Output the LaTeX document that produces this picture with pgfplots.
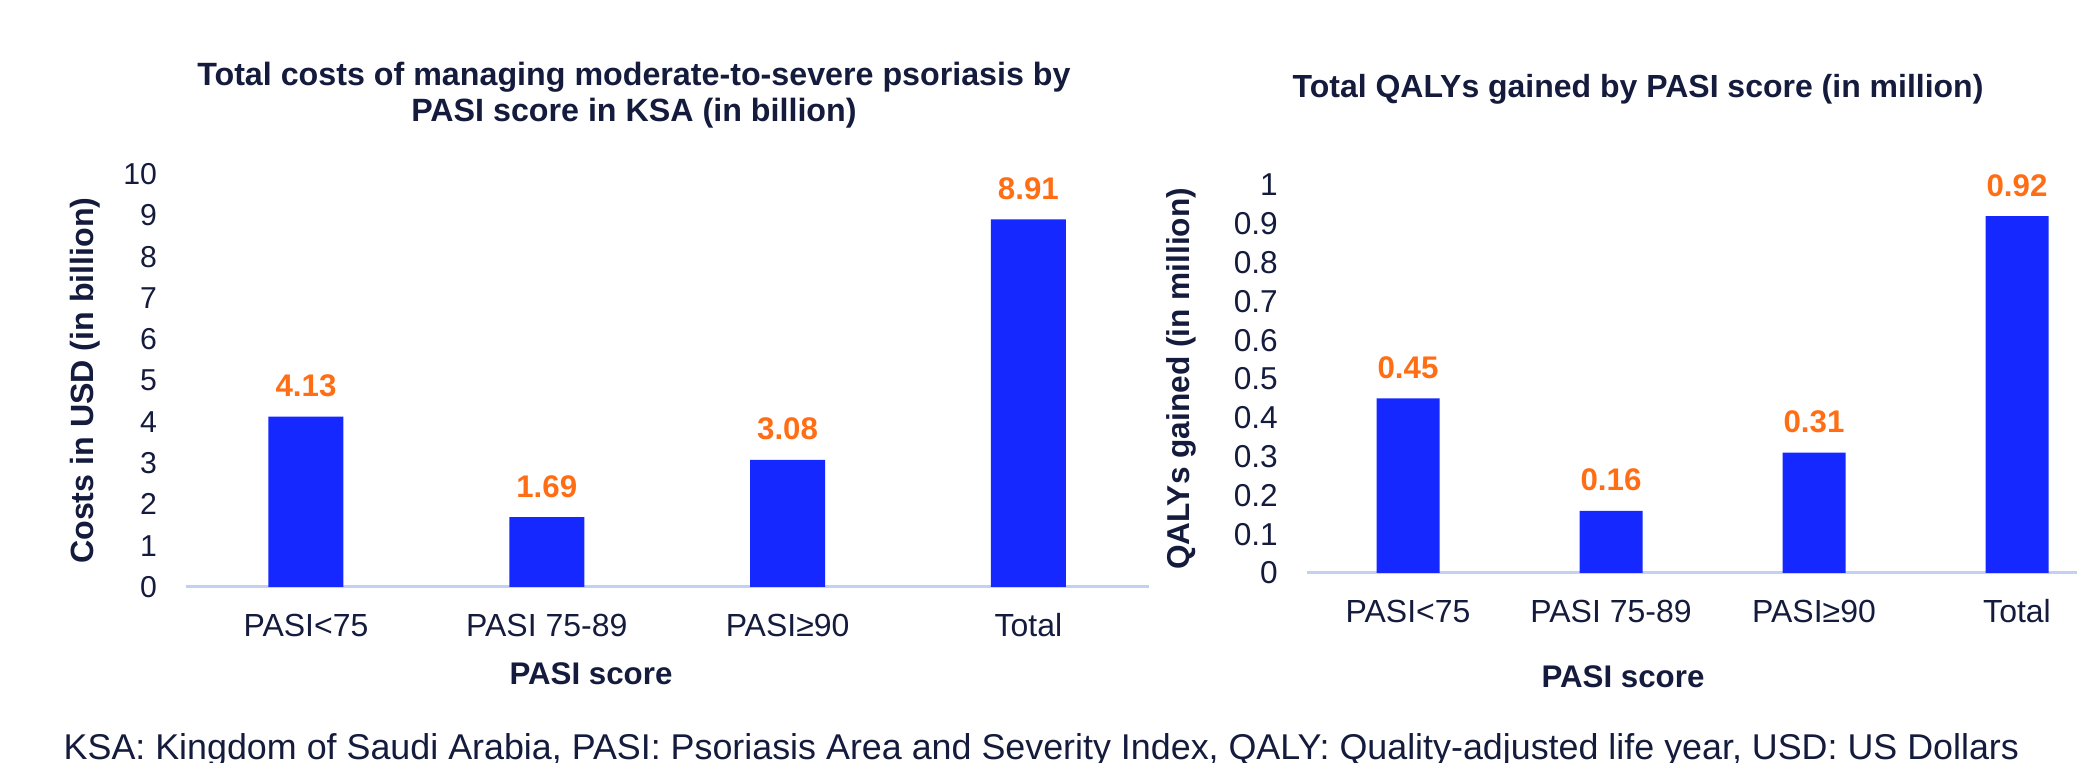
\documentclass[border=0pt]{standalone}
\usepackage{fontspec}
\setmainfont{Liberation Sans}
\usepackage{pgfplots}
\pgfplotsset{compat=1.18}
\definecolor{barblue}{RGB}{20,40,255}
\definecolor{lblorange}{RGB}{255,110,20}
\definecolor{txt}{RGB}{20,27,60}
\definecolor{axiscol}{RGB}{196,208,242}
\begin{document}
\begin{tikzpicture}
\useasboundingbox (0,0) rectangle (207.7mm,76.3mm);
\pgfplotsset{
  mybar/.style={
    scale only axis,
    xmin=-0.5, xmax=3.5, ymin=0,
    ybar,
    axis x line*=bottom, axis y line*=left,
    separate axis lines,
    x axis line style={-, draw=axiscol, line width=0.3mm},
    y axis line style={draw=none},
    tick style={draw=none},
    major tick length=0pt,
    xtick={0,1,2,3},
    xticklabels={PASI<75, PASI 75-89, PASI≥90, Total},
    enlarge x limits=false,
    enlarge y limits=false,
    /pgf/number format/assume math mode=true,
    every tick label/.append style={text=txt},
    nodes near coords,
    point meta=explicit symbolic,
    every node near coord/.append style={font=\fontsize{8.9}{10}\selectfont\bfseries, text=lblorange, anchor=south, inner sep=0pt, yshift=1.9mm},
    clip=false,
  }
}
\begin{axis}[mybar,
  at={(18.56mm,17.6mm)}, anchor=south west,
  width=96.32mm, height=41.27mm,
  ymax=10, ytick={0,1,2,3,4,5,6,7,8,9,10},
  bar width=7.5mm,
  yticklabel style={font=\fontsize{8.6}{10}\selectfont, anchor=east, inner sep=0pt, xshift=-2.8mm},
  xticklabel style={font=\fontsize{9.1}{10}\selectfont, anchor=base, inner sep=0pt, yshift=-4.97mm},
  ylabel={Costs in USD (in billion)},
  ylabel style={at={(axis description cs:-0.1044,0.5)}, anchor=center, inner sep=0pt, font=\fontsize{9.15}{10}\selectfont\bfseries, text=txt},
  xlabel={PASI score},
  xlabel style={at={(axis description cs:0.4209,0)}, anchor=base, inner sep=0pt, yshift=-9.8mm, font=\fontsize{8.9}{10}\selectfont\bfseries, text=txt},
  title={Total costs of managing moderate-to-severe psoriasis by\\PASI score in KSA (in billion)},
  title style={at={(axis description cs:0.4655,1)}, anchor=north, yshift=9.2mm, align=center, font=\fontsize{9.17}{10.4}\selectfont\bfseries, text=txt, inner sep=0pt},
]
\addplot[fill=barblue, draw=none] coordinates {(0,4.13) [4.13] (1,1.69) [1.69] (2,3.08) [3.08] (3,8.91) [8.91]};
\end{axis}
\begin{axis}[mybar,
  at={(130.65mm,19.0mm)}, anchor=south west,
  width=81.2mm, height=38.8mm,
  ymax=1, ytick={0,0.1,0.2,0.3,0.4,0.5,0.6,0.7,0.8,0.9,1},
  bar width=6.3mm,
  yticklabel style={font=\fontsize{9}{10}\selectfont, anchor=east, inner sep=0pt, xshift=-2.8mm},
  xticklabel style={font=\fontsize{9.1}{10}\selectfont, anchor=base, inner sep=0pt, yshift=-5.0mm},
  ylabel={QALYs gained (in million)},
  ylabel style={at={(axis description cs:-0.15456,0.5)}, anchor=center, inner sep=0pt, font=\fontsize{9}{10}\selectfont\bfseries, text=txt},
  xlabel={PASI score},
  xlabel style={at={(axis description cs:0.3898,0)}, anchor=base, inner sep=0pt, yshift=-11.5mm, font=\fontsize{8.9}{10}\selectfont\bfseries, text=txt},
  title={Total QALYs gained by PASI score (in million)},
  title style={at={(axis description cs:0.4083,1)}, anchor=base, yshift=6.6mm, font=\fontsize{9.1}{10.4}\selectfont\bfseries, text=txt, inner sep=0pt},
]
\addplot[fill=barblue, draw=none] coordinates {(0,0.45) [0.45] (1,0.16) [0.16] (2,0.31) [0.31] (3,0.92) [0.92]};
\end{axis}
\node[anchor=base west, inner sep=0pt, font=\fontsize{10.2}{12}\selectfont, text=txt] at (6.3mm,0.3mm) {KSA: Kingdom of Saudi Arabia, PASI: Psoriasis Area and Severity Index, QALY: Quality-adjusted life year, USD: US Dollars};
\end{tikzpicture}
\end{document}
